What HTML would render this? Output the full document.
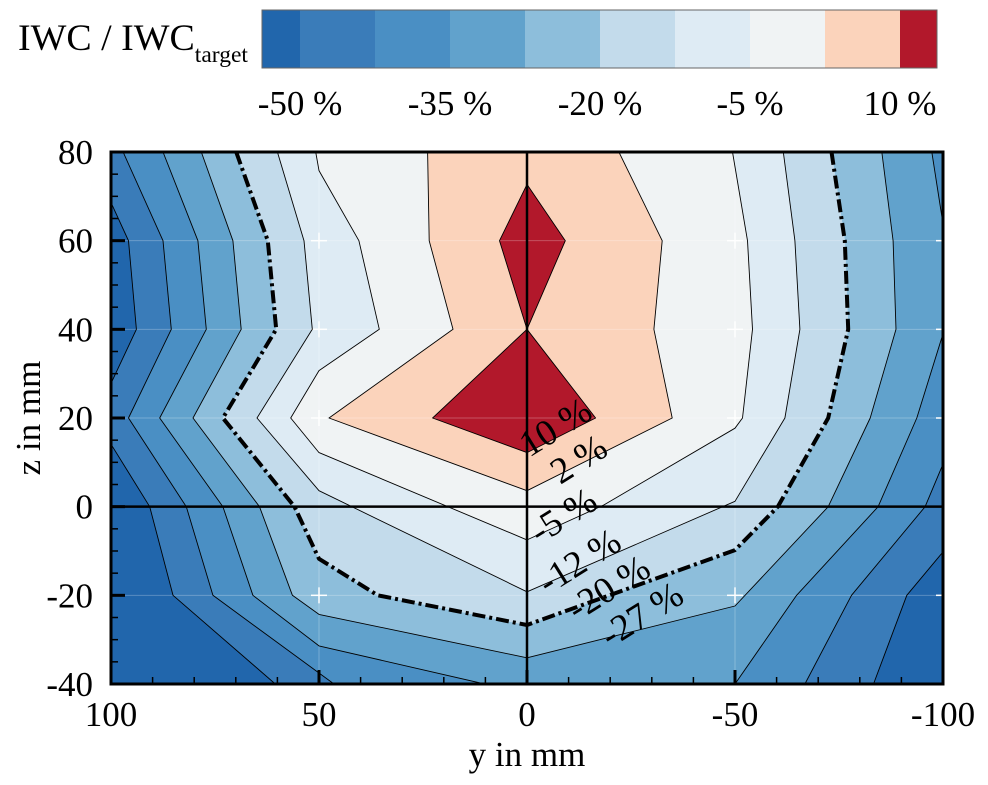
<!DOCTYPE html>
<html><head><meta charset="utf-8"><style>
html,body{margin:0;padding:0;background:#fff;}
svg{display:block;font-family:"Liberation Serif",serif;}
</style></head><body>
<svg id="chart" width="988" height="785" viewBox="0 0 988 785" xmlns="http://www.w3.org/2000/svg">
<g id="cbar"></g>
<g id="plot"></g>
</svg>
<script>
// ---- data ----
const levels = [-50, -42, -35, -27, -20, -12, -5, 2, 10];
const bandColors = ["#2166ac","#3a7cb9","#4a8fc4","#61a2cc","#8dbedb","#c3dbeb","#deebf4","#f0f3f4","#fbd3bb","#b2182b"];
const cbarTickLabels = ["-50 %","-35 %","-20 %","-5 %","10 %"];
const cbarTickIndex = [0,2,4,6,8];
const xTicks = [100,50,0,-50,-100];
const yTicks = [80,60,40,20,0,-20,-40];
// contour lines, [y_mm, z_mm]
const m50UpperLeft = [[100,68.6],[95.8,60],[93.9,40],[100,27.8]];
const m50LowerLeft = [[100,14.1],[90.7,0],[85.1,-20],[60.5,-40]];
const m50LowerRight = [[-83.3,-40],[-91.3,-20],[-100,-10.2]];
const m42Left = [[97.1,80],[87.5,60],[85.5,40],[95.8,20],[81.9,0],[75.5,-20],[46.4,-40]];
const m42Right = [[-66.8,-40],[-78.0,-20],[-95.7,0],[-100,9.6]];
const m35Left = [[87.5,80],[79.1,60],[77.1,40],[88.3,20],[73.1,0],[65.9,-20],[50,-31.4],[10.2,-40]];
const m35RightLow = [[-50,-40],[-64.8,-20],[-84.4,0],[-93.7,20],[-100,39]];
const m35RightTop = [[-100,63.8],[-97.3,80]];
const m27 = [[78.3,80],[70.7,60],[68.7,40],[80.3,20],[64.3,0],[56.4,-20],[50,-24.3],[0,-34.1],[-50,-22.4],[-72.4,0],[-82.5,20],[-88.7,40],[-88.0,60],[-85.3,80]];
const m20 = [[69.9,80],[62.3,60],[60.3,40],[73.1,20],[55.9,0],[50,-11.75],[35.9,-20],[0,-26.7],[-50,-9.8],[-60.3,0],[-72.4,20],[-77.2,40],[-76.4,60],[-73.2,80]];
const m12 = [[60.0,80],[53.6,60],[51.6,40],[64.9,20],[50,3.6],[0,-19.2],[-50,1.2],[-62.0,20],[-65.6,40],[-64.4,60],[-61.6,80]];
const m5 = [[50.8,80],[50,75.8],[40.4,60],[35.5,40],[50,30.7],[56.8,20],[50,12.2],[0,-7.5],[-18.5,0.4],[-50,17.7],[-51.8,20],[-54.2,40],[-53,60],[-49.4,80]];
const p2 = [[23.9,80],[23.5,60],[17.8,40],[47.6,20],[0,3.6],[-34.9,20],[-30.5,40],[-32.5,60],[-22.1,80]];
const p10Upper = [[0,72.7],[6.6,60],[0,40],[-9.2,60]];
const p10Lower = [[0,40],[22.7,20],[0,12.2],[-16.5,20]];
const labelTexts = ["10 %","2 %","-5 %","-12 %","-20 %","-27 %"];
const labelPos = [[-0.5,11],[-8,4.9],[-3,-8.6],[-5,-20],[-12,-26],[-20,-32]];

// ---- scales ----
const X0=111, X1=943, Y0=152, Y1=684;
const sx = v => X0 + (100 - v) * (X1 - X0) / 200;
const sz = v => Y0 + (80 - v) * (Y1 - Y0) / 120;
const NS = "http://www.w3.org/2000/svg";
const plot = document.getElementById('plot');
const cbar = document.getElementById('cbar');
function mk(tag, attrs, parent){ const e=document.createElementNS(NS,tag); for(const k in attrs) e.setAttribute(k,attrs[k]); parent.appendChild(e); return e; }
const pts = arr => arr.map(p => sx(p[0]).toFixed(1)+','+sz(p[1]).toFixed(1)).join(' ');

const defs = mk('defs',{},plot);
const cp = mk('clipPath',{id:'clip'},defs);
mk('rect',{x:X0,y:Y0,width:X1-X0,height:Y1-Y0},cp);
const g = mk('g',{'clip-path':'url(#clip)'},plot);

const bg = mk('rect',{x:X0,y:Y0,width:X1-X0,height:Y1-Y0,fill:bandColors[1]},g);



function fillPoly(arr, color, name){
  const p = mk('polygon',{points:pts(arr),fill:color,stroke:color,'stroke-width':0.5},g);
  
  
}
fillPoly(m50UpperLeft, bandColors[0], 'band-below-m50-upper-left');
fillPoly(m50LowerLeft.concat([[100,-40]]), bandColors[0], 'band-below-m50-lower-left');
fillPoly(m50LowerRight.concat([[-100,-40]]), bandColors[0], 'band-below-m50-lower-right');
fillPoly(m42Left.concat(m42Right,[[-100,80]]), bandColors[2], 'band-above-m42');
fillPoly(m35Left.concat(m35RightLow, m35RightTop), bandColors[3], 'band-above-m35');
fillPoly(m27, bandColors[4], 'band-above-m27');
fillPoly(m20, bandColors[5], 'band-above-m20');
fillPoly(m12, bandColors[6], 'band-above-m12');
fillPoly(m5, bandColors[7], 'band-above-m5');
fillPoly(p2, bandColors[8], 'band-above-2');
fillPoly(p10Upper, bandColors[9], 'band-above-10-upper');
fillPoly(p10Lower, bandColors[9], 'band-above-10-lower');

[60,40,20,-20].forEach(v=>{ mk('line',{x1:X0,x2:X1,y1:sz(v),y2:sz(v),stroke:'#fff','stroke-opacity':0.25,'stroke-width':1},g); });
[50,-50].forEach(v=>{ mk('line',{x1:sx(v),x2:sx(v),y1:Y0,y2:Y1,stroke:'#fff','stroke-opacity':0.25,'stroke-width':1},g); });
[50,-50].forEach(a=>[60,40,20,-20].forEach(b=>{
  mk('line',{x1:sx(a)-8,x2:sx(a)+8,y1:sz(b),y2:sz(b),stroke:'#fff','stroke-width':1.5},g);
  mk('line',{x1:sx(a),x2:sx(a),y1:sz(b)-8,y2:sz(b)+8,stroke:'#fff','stroke-width':1.5},g);
}));

function line(arr, name, dd){
  const l = mk('polyline',{points:pts(arr),fill:'none',stroke:'#000','stroke-width':dd?4:0.9,'stroke-linejoin':'round'},g);
  if(dd) l.setAttribute('stroke-dasharray','13 4 3 4');
  
  
}
line(m50UpperLeft,'contour-m50-upper-left');
line(m50LowerLeft,'contour-m50-lower-left');
line(m50LowerRight,'contour-m50-lower-right');
line(m42Left,'contour-m42-left');
line(m42Right,'contour-m42-right');
line(m35Left,'contour-m35-left');
line(m35RightLow,'contour-m35-right-low');
line(m35RightTop,'contour-m35-right-top');
line(m27,'contour-m27');
line(m12,'contour-m12');
line(m5,'contour-m5');
line(p2,'contour-2');
line(p10Upper.concat([p10Upper[0]]),'contour-10-upper');
line(p10Lower.concat([p10Lower[0]]),'contour-10-lower');
line(m20,'contour-m20-dashdot',true);

const zh = mk('line',{x1:X0,x2:X1,y1:sz(0),y2:sz(0),stroke:'#000','stroke-width':2.5},plot);
 
const zv = mk('line',{x1:sx(0),x2:sx(0),y1:Y0,y2:Y1,stroke:'#000','stroke-width':2.5},plot);
 

labelTexts.forEach((t,i)=>{
  const lx = sx(labelPos[i][0]), ly = sz(labelPos[i][1]);
  const tx = mk('text',{x:lx,y:ly,'font-size':37,fill:'#000',transform:`rotate(-32 ${lx} ${ly})`},plot);
  tx.textContent = t;
  
  
});

for(let v=-40; v<=80; v+=5){
  const major = v%20===0;
  mk('line',{x1:X0,x2:X0+(major?14:7),y1:sz(v),y2:sz(v),stroke:'#000','stroke-width':major?3:1.5},plot);
  if(major && v!==80 && v!==-40 && v!==0) mk('line',{x1:X1-7,x2:X1,y1:sz(v),y2:sz(v),stroke:'#fff','stroke-width':1.5},plot);
}
for(let v=-100; v<=100; v+=10){
  const major = v%50===0;
  mk('line',{x1:sx(v),x2:sx(v),y1:Y1,y2:Y1-(major?14:7),stroke:'#000','stroke-width':major?3:1.5},plot);
}
const fr = mk('rect',{x:X0,y:Y0,width:X1-X0,height:Y1-Y0,fill:'none',stroke:'#000','stroke-width':3},plot);
 

yTicks.forEach(v=>{
  const t = mk('text',{x:93,y:sz(v)+12,'font-size':35,'text-anchor':'end',fill:'#000'},plot);
  t.textContent = String(v);
  
  
});
xTicks.forEach(v=>{
  const t = mk('text',{x:sx(v),y:726,'font-size':35,'text-anchor':'middle',fill:'#000'},plot);
  t.textContent = String(v);
  
  
});
const xt = mk('text',{x:527,y:766,'font-size':35,'text-anchor':'middle',fill:'#000'},plot);
xt.textContent='y in mm';
 
const yt = mk('text',{x:40,y:418,'font-size':35,'text-anchor':'middle',fill:'#000',transform:'rotate(-90 40 418)'},plot);
yt.textContent='z in mm';
 

const CB0=262, CBY=10, CBH=58;
const cbx = idx => 300 + idx*75;
bandColors.forEach((c,i)=>{
  const xa = i===0 ? CB0 : cbx(i-1);
  const xb = i===bandColors.length-1 ? 937 : cbx(i);
  const r = mk('rect',{x:xa,y:CBY,width:xb-xa,height:CBH,fill:c},cbar);
  
  
});
mk('rect',{x:CB0,y:CBY,width:937-CB0,height:CBH,fill:'none',stroke:'#666','stroke-width':1},cbar);
cbarTickLabels.forEach((t,i)=>{
  const tx = mk('text',{x:cbx(cbarTickIndex[i]),y:115,'font-size':35,'text-anchor':'middle',fill:'#000'},cbar);
  tx.textContent = t;
  
  
});
const ct = mk('text',{x:18,y:50,'font-size':37,fill:'#000',textLength:230,lengthAdjust:'spacingAndGlyphs'},cbar);


ct.innerHTML = 'IWC / IWC<tspan font-size="23" dy="12">target</tspan>';
</script>
</body></html>
